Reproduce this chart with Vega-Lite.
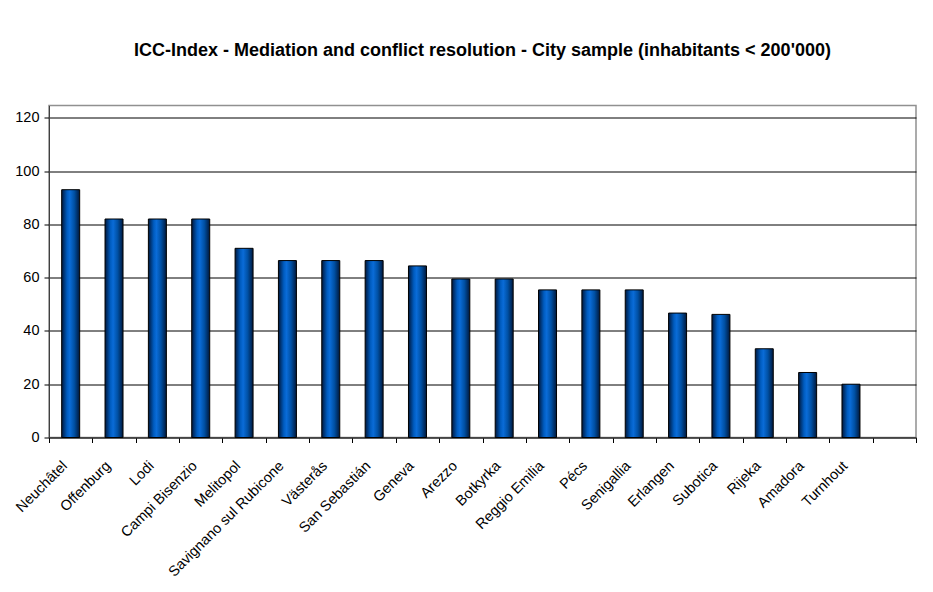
{
  "$schema": "https://vega.github.io/schema/vega-lite/v6.json",
  "width": 867,
  "height": 332,
  "autosize": {"type": "none"},
  "padding": {"left": 49, "top": 105.5, "right": 17, "bottom": 154.5},
  "background": "white",
  "title": {
    "text": "ICC-Index - Mediation and conflict resolution - City sample (inhabitants < 200'000)",
    "font": "Liberation Sans",
    "fontSize": 18,
    "fontWeight": "bold",
    "color": "#000000",
    "anchor": "middle",
    "offset": 46
  },
  "data": {
    "values": [
      {"city": "Neuchâtel", "value": 93},
      {"city": "Offenburg", "value": 82},
      {"city": "Lodi", "value": 82},
      {"city": "Campi Bisenzio", "value": 82},
      {"city": "Melitopol", "value": 71},
      {"city": "Savignano sul Rubicone", "value": 66.4},
      {"city": "Västerås", "value": 66.4},
      {"city": "San Sebastián", "value": 66.4},
      {"city": "Geneva", "value": 64.4},
      {"city": "Arezzo", "value": 59.5},
      {"city": "Botkyrka", "value": 59.5},
      {"city": "Reggio Emilia", "value": 55.4},
      {"city": "Pécs", "value": 55.4},
      {"city": "Senigallia", "value": 55.4},
      {"city": "Erlangen", "value": 46.7},
      {"city": "Subotica", "value": 46.2},
      {"city": "Rijeka", "value": 33.3},
      {"city": "Amadora", "value": 24.4},
      {"city": "Turnhout", "value": 20}
    ]
  },
  "mark": {
    "type": "bar",
    "width": 18,
    "stroke": "#000000",
    "strokeWidth": 1,
    "color": {
      "gradient": "linear",
      "x1": 0, "x2": 1, "y1": 0, "y2": 0,
      "stops": [
        {"offset": 0, "color": "#00183c"},
        {"offset": 0.3, "color": "#005cc0"},
        {"offset": 0.45, "color": "#0a6cd8"},
        {"offset": 0.7, "color": "#0050a4"},
        {"offset": 1, "color": "#00183c"}
      ]
    }
  },
  "encoding": {
    "x": {
      "field": "city",
      "type": "nominal",
      "sort": null,
      "scale": {
        "domain": ["Neuchâtel", "Offenburg", "Lodi", "Campi Bisenzio", "Melitopol", "Savignano sul Rubicone", "Västerås", "San Sebastián", "Geneva", "Arezzo", "Botkyrka", "Reggio Emilia", "Pécs", "Senigallia", "Erlangen", "Subotica", "Rijeka", "Amadora", "Turnhout", " "],
        "paddingInner": 0,
        "paddingOuter": 0
      },
      "axis": {
        "title": null,
        "labelAngle": -45,
        "labelAlign": "right",
        "labelBaseline": "middle",
        "labelFont": "Liberation Sans",
        "labelFontSize": 14.5,
        "labelColor": "#000000",
        "labelPadding": 21,
        "labelOffset": -6,
        "tickBand": "extent",
        "tickSize": 5,
        "tickColor": "#000000",
        "domainColor": "#404040",
        "labelOverlap": false,
        "labelLimit": 300,
        "grid": false
      }
    },
    "y": {
      "field": "value",
      "type": "quantitative",
      "scale": {"domain": [0, 124.6], "nice": false, "zero": true},
      "axis": {
        "title": null,
        "values": [0, 20, 40, 60, 80, 100, 120],
        "labelFont": "Liberation Sans",
        "labelFontSize": 14.5,
        "labelColor": "#000000",
        "labelPadding": 5,
        "tickSize": 5,
        "tickColor": "#000000",
        "domainColor": "#404040",
        "grid": true,
        "gridColor": "#000000",
        "gridOpacity": 1,
        "gridWidth": 1
      }
    }
  },
  "config": {
    "view": {"stroke": "#909090", "strokeWidth": 1.5}
  }
}
